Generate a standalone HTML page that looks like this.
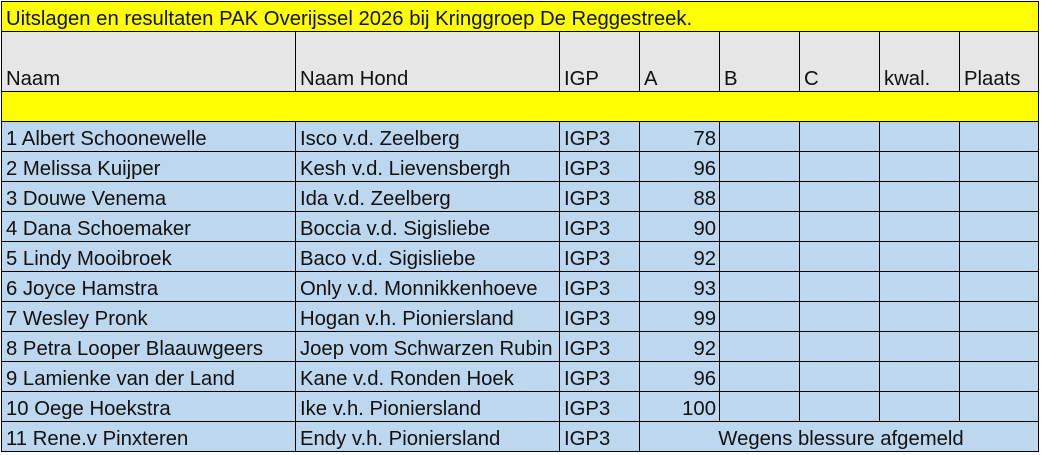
<!DOCTYPE html>
<html><head><meta charset="utf-8"><style>
html,body{margin:0;padding:0;background:#fff;width:1041px;height:455px;overflow:hidden}
table{position:absolute;left:1px;top:1px;border-collapse:collapse;font-family:"Liberation Sans",sans-serif;font-size:20.3px;color:#111;table-layout:fixed}
td{border:1px solid #000;padding:0 0 1px 4px;vertical-align:bottom;white-space:nowrap;overflow:hidden;height:29px;box-sizing:border-box;line-height:22px}
tr.t td{background:#ffff00;height:30px}
tr.h td{background:#e7e6e6;height:60px}
tr.y td{background:#ffff00;height:30px}
tr.r td{background:#bdd7ee;height:30px}
td.n{text-align:right;padding-right:3px}
td.c{text-align:center}
</style></head><body>
<table>
<colgroup><col style="width:294px"><col style="width:264px"><col style="width:80px"><col style="width:80px"><col style="width:80px"><col style="width:80px"><col style="width:80px"><col style="width:79px"></colgroup>
<tr class="t"><td colspan="8">Uitslagen en resultaten PAK Overijssel 2026 bij Kringgroep De Reggestreek.</td></tr>
<tr class="h"><td>Naam</td><td>Naam Hond</td><td>IGP</td><td>A</td><td>B</td><td>C</td><td>kwal.</td><td>Plaats</td></tr>
<tr class="y"><td colspan="8"></td></tr>
<tr class="r"><td>1 Albert Schoonewelle</td><td>Isco v.d. Zeelberg</td><td>IGP3</td><td class="n">78</td><td></td><td></td><td></td><td></td></tr>
<tr class="r"><td>2 Melissa Kuijper</td><td>Kesh v.d. Lievensbergh</td><td>IGP3</td><td class="n">96</td><td></td><td></td><td></td><td></td></tr>
<tr class="r"><td>3 Douwe Venema</td><td>Ida v.d. Zeelberg</td><td>IGP3</td><td class="n">88</td><td></td><td></td><td></td><td></td></tr>
<tr class="r"><td>4 Dana Schoemaker</td><td>Boccia v.d. Sigisliebe</td><td>IGP3</td><td class="n">90</td><td></td><td></td><td></td><td></td></tr>
<tr class="r"><td>5 Lindy Mooibroek</td><td>Baco v.d. Sigisliebe</td><td>IGP3</td><td class="n">92</td><td></td><td></td><td></td><td></td></tr>
<tr class="r"><td>6 Joyce Hamstra</td><td>Only v.d. Monnikkenhoeve</td><td>IGP3</td><td class="n">93</td><td></td><td></td><td></td><td></td></tr>
<tr class="r"><td>7 Wesley Pronk</td><td>Hogan v.h. Pioniersland</td><td>IGP3</td><td class="n">99</td><td></td><td></td><td></td><td></td></tr>
<tr class="r"><td>8 Petra Looper Blaauwgeers</td><td>Joep vom Schwarzen Rubin</td><td>IGP3</td><td class="n">92</td><td></td><td></td><td></td><td></td></tr>
<tr class="r"><td>9 Lamienke van der Land</td><td>Kane v.d. Ronden Hoek</td><td>IGP3</td><td class="n">96</td><td></td><td></td><td></td><td></td></tr>
<tr class="r"><td>10 Oege Hoekstra</td><td>Ike v.h. Pioniersland</td><td>IGP3</td><td class="n">100</td><td></td><td></td><td></td><td></td></tr>
<tr class="r"><td>11 Rene.v Pinxteren</td><td>Endy v.h. Pioniersland</td><td>IGP3</td><td colspan="5" class="c">Wegens blessure afgemeld</td></tr>
</table>
</body></html>
